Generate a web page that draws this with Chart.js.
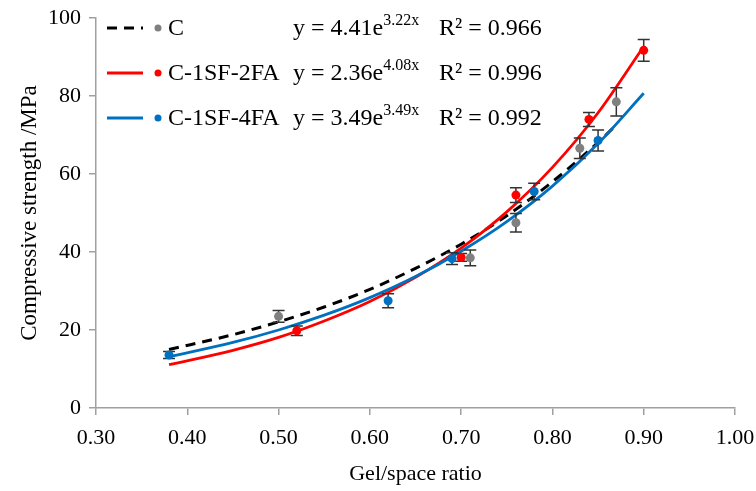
<!DOCTYPE html>
<html>
<head>
<meta charset="utf-8">
<script src="https://cdn.jsdelivr.net/npm/chart.js@4"></script>
<style>
  body { margin: 0; background: #fff; }
  #wrap { width: 756px; height: 491px; }
</style>
</head>
<body>
<div id="wrap"><canvas id="chart1"></canvas></div>
<script>
// measured points (gel/space ratio vs compressive strength, MPa) with +/- error
var cX = [0.50, 0.71, 0.76, 0.83, 0.87];
var cY = [23.5, 38.5, 47.5, 66.6, 78.5];
var cErr = [1.5, 2.0, 2.4, 2.6, 3.6];

var redX = [0.52, 0.70, 0.76, 0.84, 0.90];
var redY = [19.8, 38.6, 54.6, 74.0, 91.7];
var redErr = [1.2, 1.0, 1.9, 1.8, 2.8];

var blueX = [0.38, 0.62, 0.69, 0.78, 0.85];
var blueY = [13.6, 27.5, 38.3, 55.5, 68.6];
var blueErr = [0.9, 1.8, 1.5, 2.1, 2.7];

// trend curves
var cFitX = [0.38, 0.45, 0.50, 0.55, 0.60, 0.65, 0.70, 0.75, 0.80, 0.85, 0.87];
var cFitY = [15.0, 18.8, 22.1, 25.9, 30.4, 35.8, 42.0, 49.3, 58.0, 68.1, 72.6];
var fitX = [0.38, 0.45, 0.50, 0.55, 0.60, 0.65, 0.70, 0.75, 0.80, 0.85, 0.90];
var redFitY = [11.1, 14.8, 18.1, 22.3, 27.3, 33.5, 41.0, 50.3, 61.7, 75.7, 92.7];
var blueFitY = [13.1, 16.8, 20.0, 23.8, 28.3, 33.7, 40.2, 47.8, 56.9, 67.8, 80.7];

var xTicks = ["0.30", "0.40", "0.50", "0.60", "0.70", "0.80", "0.90", "1.00"];

var legendRows = [
    { name: 'C', color: '#808080', line: '#000000', dash: [10, 7], a: '4.41', b: '3.22', r2: '0.966' },
    { name: 'C-1SF-2FA', color: '#ff0000', line: '#ff0000', dash: [], a: '2.36', b: '4.08', r2: '0.996' },
    { name: 'C-1SF-4FA', color: '#0070c0', line: '#0070c0', dash: [], a: '3.49', b: '3.49', r2: '0.992' }
];

function pts(xs, ys) {
    return xs.map(function (x, i) { return { x: x, y: ys[i] }; });
}

var serif = '"Liberation Serif", "Times New Roman", serif';
var axisGray = '#a0a0a0';

var errorBars = {
    id: 'errorBars',
    afterDatasetDraw: function (chart, args) {
        if (args.index !== 3) return; // after the last curve, before the dots
        var ctx = chart.ctx, xs = chart.scales.x, ys = chart.scales.y;
        var sets = [[cX, cY, cErr], [redX, redY, redErr], [blueX, blueY, blueErr]];
        ctx.save();
        ctx.strokeStyle = '#333333';
        ctx.lineWidth = 1.5;
        sets.forEach(function (s) {
            s[0].forEach(function (x, i) {
                var px = xs.getPixelForValue(x);
                var top = ys.getPixelForValue(s[1][i] + s[2][i]);
                var bot = ys.getPixelForValue(s[1][i] - s[2][i]);
                ctx.beginPath();
                ctx.moveTo(px, top); ctx.lineTo(px, bot);
                ctx.moveTo(px - 6, top); ctx.lineTo(px + 6, top);
                ctx.moveTo(px - 6, bot); ctx.lineTo(px + 6, bot);
                ctx.stroke();
            });
        });
        ctx.restore();
    }
};

var legendBox = {
    id: 'legendBox',
    afterDraw: function (chart) {
        var ctx = chart.ctx;
        ctx.save();
        ctx.textBaseline = 'middle';
        legendRows.forEach(function (r, i) {
            var y = 28 + i * 45;
            ctx.strokeStyle = r.line;
            ctx.lineWidth = 3;
            ctx.setLineDash(r.dash);
            ctx.beginPath(); ctx.moveTo(107, y); ctx.lineTo(143, y); ctx.stroke();
            ctx.setLineDash([]);
            ctx.fillStyle = r.color;
            ctx.beginPath(); ctx.arc(158, y, 3.5, 0, Math.PI * 2); ctx.fill();
            ctx.fillStyle = '#000';
            ctx.font = '24px ' + serif;
            ctx.fillText(r.name, 168, y + 1);
            var s = 'y = ' + r.a + 'e';
            ctx.fillText(s, 293, y + 1);
            var w = ctx.measureText(s).width;
            ctx.font = '16px ' + serif;
            ctx.fillText(r.b + 'x', 293 + w, y - 7);
            ctx.font = '24px ' + serif;
            ctx.fillText('R\u00b2 = ' + r.r2, 439, y + 1);
        });
        ctx.restore();
    }
};

var ctx = document.getElementById('chart1').getContext('2d');
var chart1 = new Chart(ctx, {
    type: 'scatter',
    data: {
        datasets: [
            { label: 'C-1SF-4FA pts', data: pts(blueX, blueY), backgroundColor: '#0070c0', pointRadius: 4.5, borderWidth: 0, order: 1 },
            { label: 'C-1SF-2FA pts', data: pts(redX, redY), backgroundColor: '#ff0000', pointRadius: 4.5, borderWidth: 0, order: 1 },
            { label: 'C pts', data: pts(cX, cY), backgroundColor: '#808080', pointRadius: 4.5, borderWidth: 0, order: 1 },
            { type: 'line', label: 'C-1SF-4FA', data: pts(fitX, blueFitY), borderColor: '#0070c0', borderWidth: 2.8, pointRadius: 0, fill: false, cubicInterpolationMode: 'monotone', order: 2 },
            { type: 'line', label: 'C-1SF-2FA', data: pts(fitX, redFitY), borderColor: '#ff0000', borderWidth: 2.8, pointRadius: 0, fill: false, cubicInterpolationMode: 'monotone', order: 2 },
            { type: 'line', label: 'C', data: pts(cFitX, cFitY), borderColor: '#000000', borderDash: [10, 7], borderWidth: 3, pointRadius: 0, fill: false, cubicInterpolationMode: 'monotone', order: 2 }
        ]
    },
    options: {
        responsive: true,
        maintainAspectRatio: false,
        animation: false,
        layout: { padding: { left: 12, right: 21, top: 18, bottom: 0 } },
        plugins: { legend: { display: false }, tooltip: { enabled: false } },
        scales: {
            x: {
                type: 'linear', min: 0.3, max: 1.0,
                afterFit: function (s) { s.height = 83; s.paddingLeft = 0; s.paddingRight = 0; },
                ticks: {
                    stepSize: 0.1, color: '#000', padding: 10,
                    font: { family: serif, size: 22 },
                    callback: function (v, i) { return xTicks[i]; }
                },
                grid: { drawOnChartArea: false, color: axisGray, tickLength: 7, lineWidth: 1.5 },
                border: { color: axisGray, width: 1.5 },
                title: { display: true, text: 'Gel/space ratio', color: '#000', font: { family: serif, size: 22 }, padding: { top: 0 } }
            },
            y: {
                min: 0, max: 100,
                afterFit: function (s) { s.width = 84; s.paddingTop = 0; s.paddingBottom = 0; },
                ticks: { stepSize: 20, color: '#000', padding: 8, font: { family: serif, size: 22 } },
                grid: { drawOnChartArea: false, color: axisGray, tickLength: 7, lineWidth: 1.5 },
                border: { color: axisGray, width: 1.5 },
                title: { display: true, text: 'Compressive strength /MPa', color: '#000', font: { family: serif, size: 23 }, padding: { bottom: 4 } }
            }
        }
    },
    plugins: [errorBars, legendBox]
});
</script>
</body>
</html>
